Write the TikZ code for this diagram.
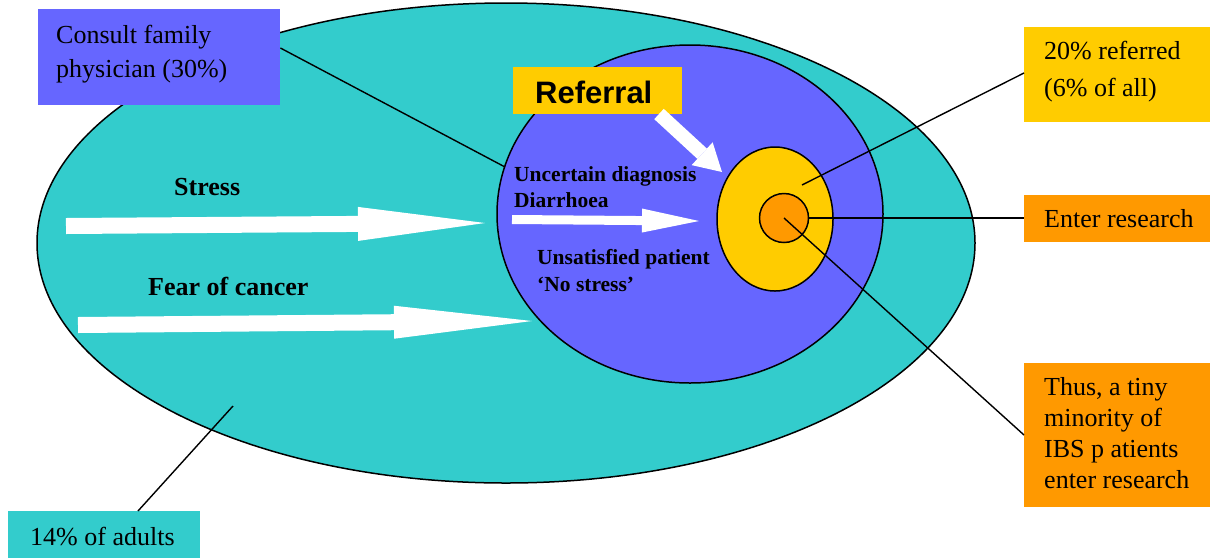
\documentclass[tikz,border=0pt]{standalone}
\usepackage{fontspec}
\setmainfont{Liberation Serif}
\newfontfamily\arialfont{Liberation Sans}
\usetikzlibrary{shapes.geometric,arrows.meta}
\definecolor{tealc}{HTML}{33CCCC}
\definecolor{bluec}{HTML}{6666FF}
\definecolor{yellowc}{HTML}{FFCC00}
\definecolor{orangec}{HTML}{FF9900}
\begin{document}
\begin{tikzpicture}[x=1pt,y=-1pt,
  oval/.style={ellipse, draw=black, line width=1.5pt, inner sep=0pt},
  box/.style={rectangle, inner sep=0pt, anchor=north west},
  txt/.style={inner sep=0pt, anchor=base west, align=left, font=\fontsize{26}{34}\selectfont},
  btxt/.style={inner sep=0pt, anchor=base west, align=left, font=\fontsize{21.5}{26}\selectfont\bfseries},
  link/.style={draw=black, line width=1.4pt},
  blockarrow/.style={draw=white, line width=#1}
]
\useasboundingbox (0,0) rectangle (1210,558);
% ellipses
\node[oval, fill=tealc, minimum width=938pt, minimum height=480pt] (outer) at (506,243) {};
\node[oval, fill=bluec, minimum width=386pt, minimum height=338pt] (mid) at (690,214) {};
\node[oval, fill=yellowc, minimum width=116pt, minimum height=144pt] (ref) at (775,219) {};
\node[oval, fill=orangec, minimum width=49pt, minimum height=49pt] (core) at (784,218) {};
% boxes
\node[box, fill=bluec, minimum width=242pt, minimum height=96pt] (consult) at (38,9) {};
\node[box, fill=yellowc, minimum width=169pt, minimum height=47pt] (referral) at (513,67) {};
\node[box, fill=yellowc, minimum width=186pt, minimum height=95pt] (twenty) at (1024,27) {};
\node[box, fill=orangec, minimum width=186pt, minimum height=47pt] (enter) at (1024,195) {};
\node[box, fill=orangec, minimum width=186pt, minimum height=144pt] (thus) at (1024,363) {};
\node[box, fill=tealc, minimum width=192pt, minimum height=47pt] (adults) at (8,511) {};
% block arrows
\coordinate (s1) at (66,226);
\coordinate (s2) at (485,223);
\coordinate (f1) at (78,325);
\coordinate (f2) at (532,321);
\coordinate (d1) at (512,219.5);
\coordinate (d2) at (699,221);
\coordinate (r1) at (659,114);
\coordinate (r2) at (722,172);
\draw[blockarrow=16pt, -{Triangle[length=127pt, width=34pt, line width=0pt]}] (s1) -- (s2);
\draw[blockarrow=16pt, -{Triangle[length=138pt, width=33pt, line width=0pt]}] (f1) -- (f2);
\draw[blockarrow=9pt, -{Triangle[length=57pt, width=24pt, line width=0pt]}] (d1) -- (d2);
\draw[blockarrow=14pt, -{Triangle[length=27pt, width=31pt, line width=0pt]}] (r1) -- (r2);
% texts (base anchor = baseline of last line)
\node[txt] (tconsult) at (56,77) {Consult family\\physician (30\%)};
\node[inner sep=0pt, anchor=base west, font=\arialfont\bfseries\fontsize{31}{36}\selectfont] (treferral) at (535,103) {Referral};
\node[txt, font=\fontsize{26}{37}\selectfont] (ttwenty) at (1044,96) {20\% referred\\(6\% of all)};
\node[txt] (tenter) at (1044,227) {Enter research};
\node[txt, font=\fontsize{26}{31}\selectfont] (tthus) at (1044,488) {Thus, a tiny\\minority of\\IBS p atients\\enter research};
\node[txt] (tadults) at (30,545) {14\% of adults};
\node[btxt, font=\fontsize{26}{30}\selectfont\bfseries] (tstress) at (174,195) {Stress};
\node[btxt, font=\fontsize{26}{30}\selectfont\bfseries] (tfear) at (148,295) {Fear of cancer};
\node[btxt] (tunc) at (514,207) {Uncertain diagnosis\\Diarrhoea};
\node[btxt, font=\fontsize{21.5}{27}\selectfont\bfseries] (tuns) at (537,291) {Unsatisfied patient\\`No stress'};
% connectors
\coordinate (cm) at (505,167);
\coordinate (ry) at (802,185);
\coordinate (oa) at (233,406);
\draw[link] (consult.east |- 0,48) -- (cm);
\draw[link] (ry) -- (twenty.west |- 0,73);
\draw[link] (core.east) -- (enter.west |- core.east);
\draw[link] (core.center) -- (thus.west |- 0,435);
\draw[link] (oa) -- (adults.north west -| 138,0);
\end{tikzpicture}
\end{document}
